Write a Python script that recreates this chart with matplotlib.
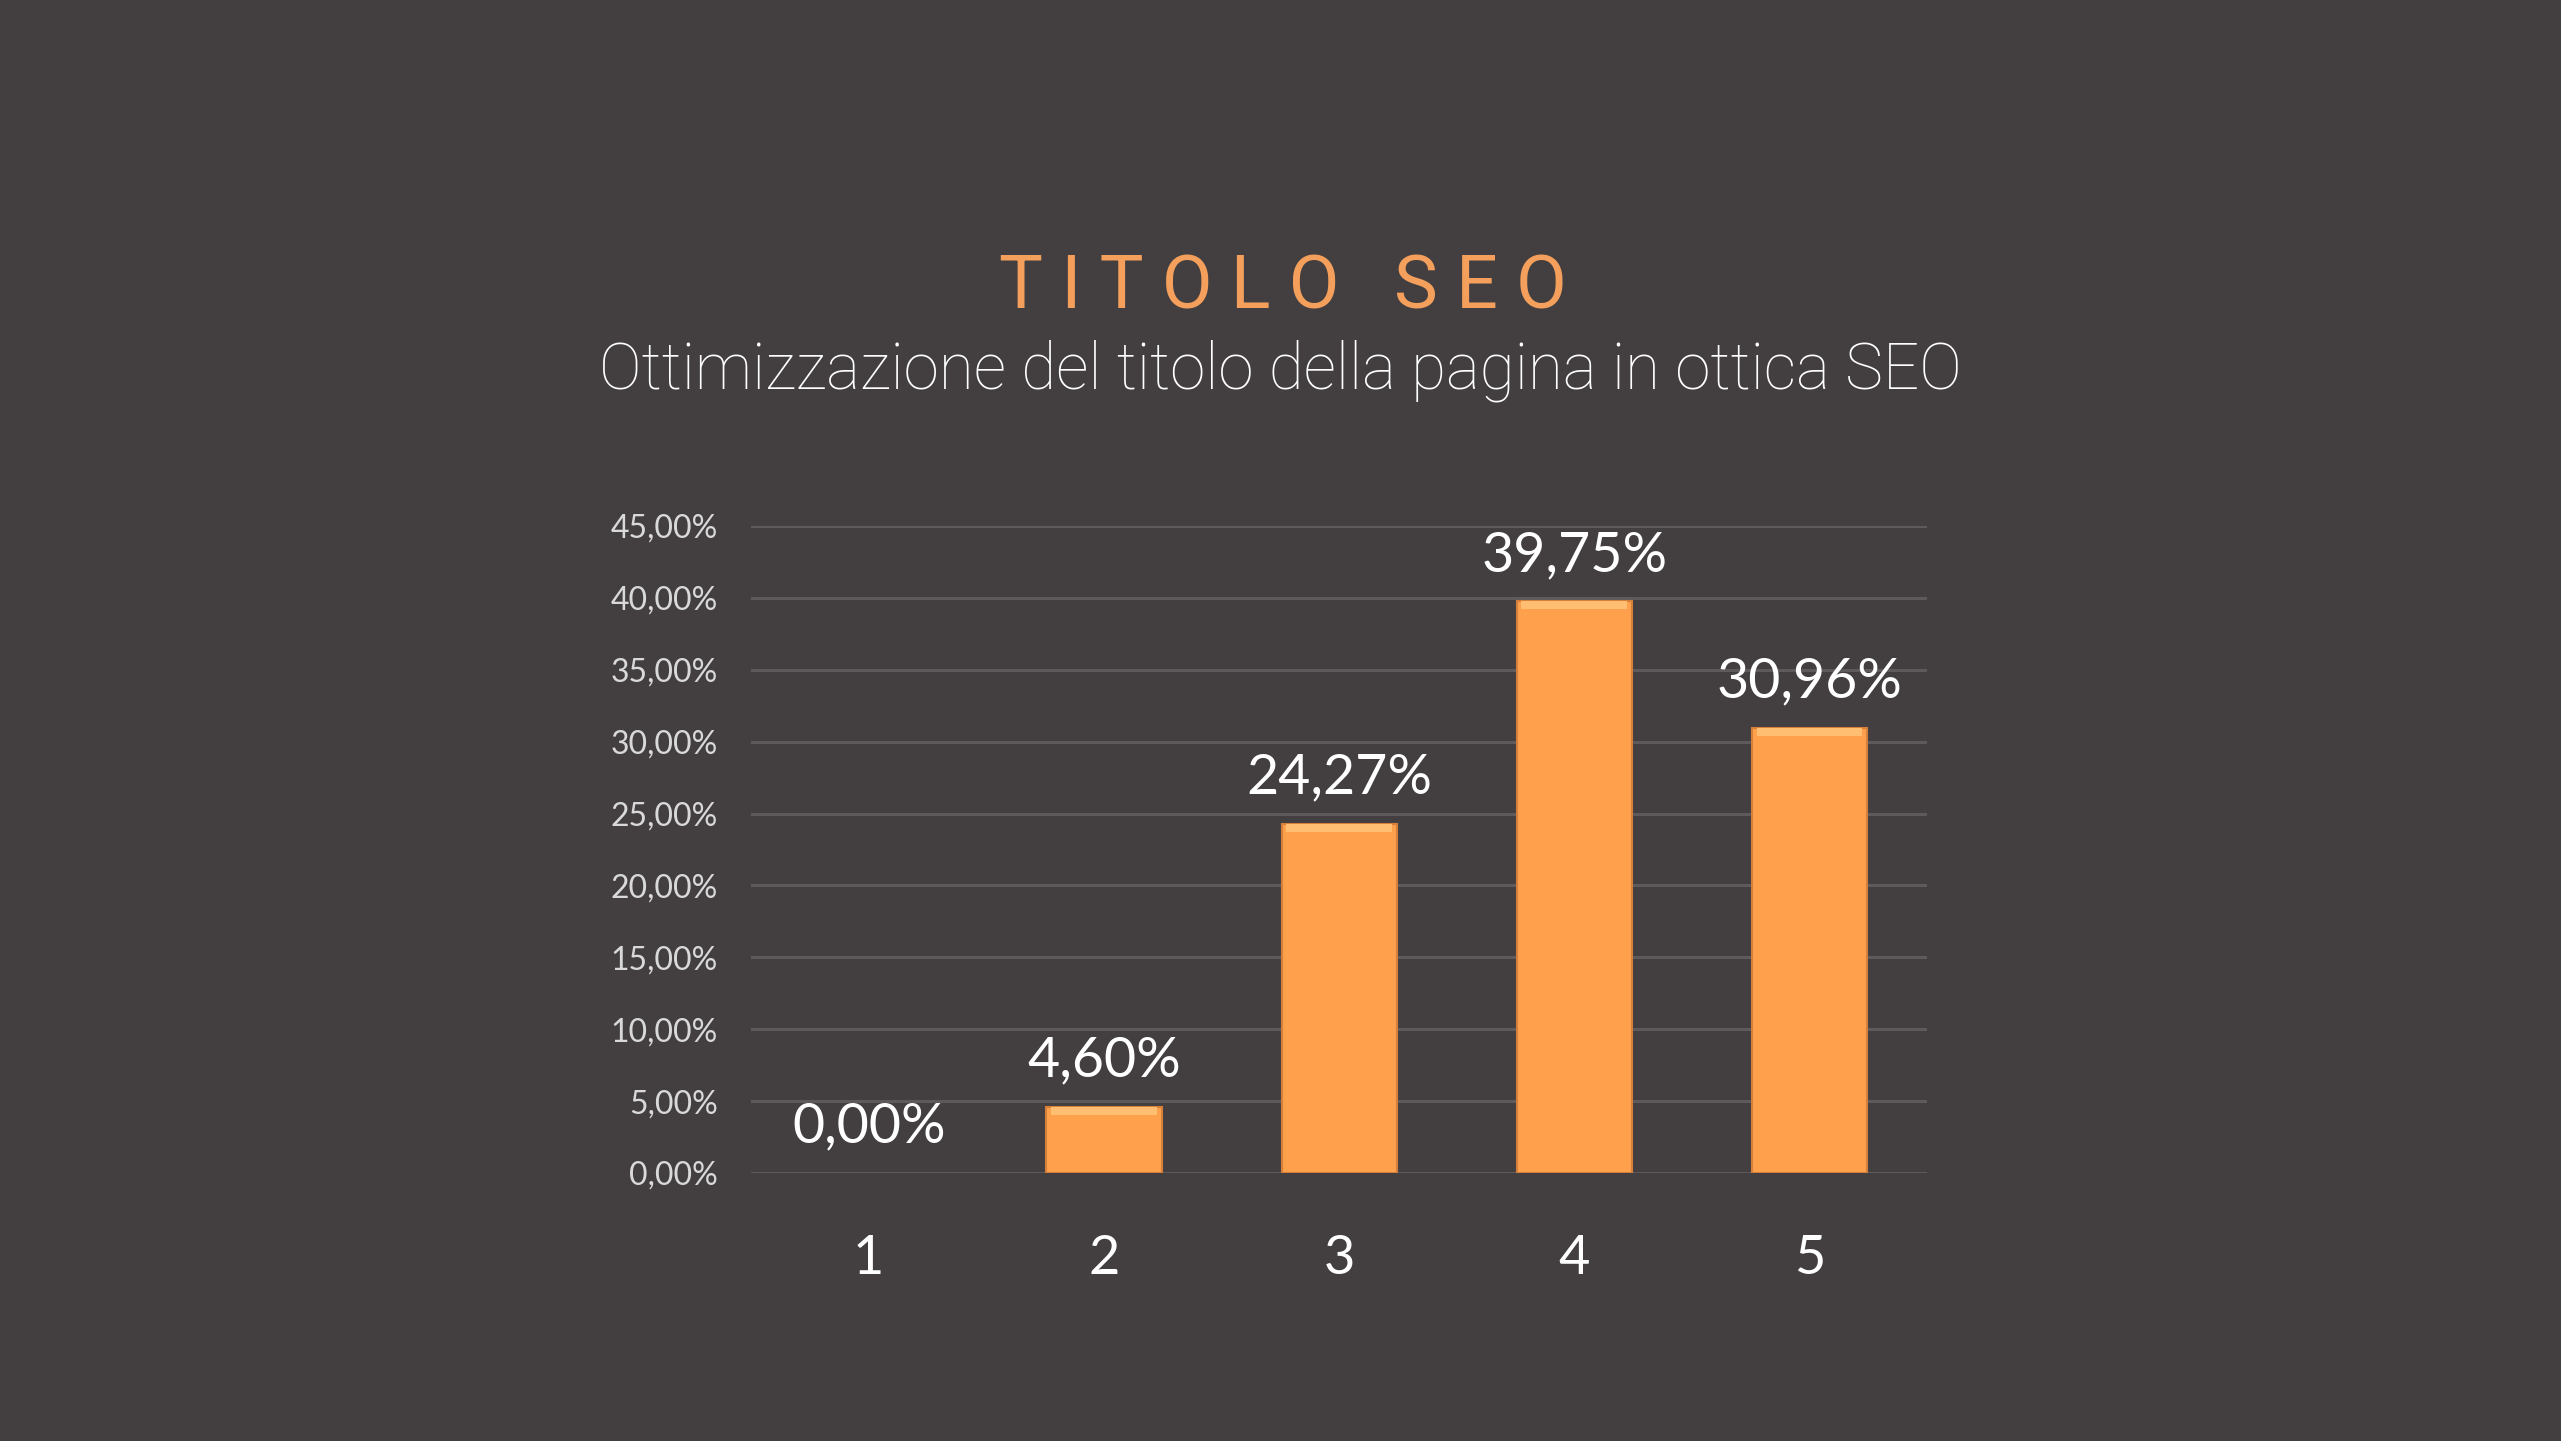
import numpy as np
import matplotlib.pyplot as plt

# data
categories = ["1", "2", "3", "4", "5"]
values = [0.0, 4.60, 24.27, 39.75, 30.96]
y_ticks = [0, 5, 10, 15, 20, 25, 30, 35, 40, 45]

BG = "#433F40"
ORANGE = "#FFA04D"
TITLE_ORANGE = "#F4A05C"


def pct(v):
    return ("%.2f%%" % v).replace(".", ",")


fig = plt.figure(figsize=(25.61, 14.41), dpi=100, facecolor=BG)
ax = fig.add_axes([0.2933, 0.186, 0.4592, 0.449])
ax.set_facecolor(BG)

x = np.arange(1, len(categories) + 1)
edges = ["#D5803A" if v > 0 else "none" for v in values]
ax.bar(x, values, width=0.49, color=ORANGE, edgecolor=edges,
       linewidth=1.5, zorder=3)
# light band along the top, like the bevel in the original
band = 0.55
top = [max(v - band, 0) for v in values]
hb = [band if v > 0 else 0 for v in values]
ax.bar(x, hb, bottom=top, width=0.45, color="#FFBE72", linewidth=0,
       zorder=4)

for xi, v in zip(x, values):
    ax.annotate(pct(v), (xi, v), xytext=(0, 22), textcoords="offset points",
                ha="center", va="baseline", color="white", fontsize=40,
                family="Lato")

ax.set_xlim(0.5, 5.5)
ax.set_ylim(0, 45)
ax.set_yticks(y_ticks)
ax.set_yticklabels([pct(t) for t in y_ticks])
ax.set_xticks(x)
ax.set_xticklabels(categories)
ax.grid(axis="y", color="#5E5A5B", linewidth=2.2, zorder=0)
ax.set_axisbelow(True)
for s in ax.spines.values():
    s.set_visible(False)
ax.tick_params(axis="y", length=0, pad=24, labelsize=23, labelcolor="#D9D9D9")
ax.tick_params(axis="x", length=0, pad=44, labelsize=39, labelcolor="white")
for lab in ax.get_xticklabels() + ax.get_yticklabels():
    lab.set_family("Lato")

fig.text(0.501, 0.800, "T I T O L O   S E O", ha="center", va="center",
         color=TITLE_ORANGE, fontsize=53, family="Roboto")
fig.text(0.5, 0.743, "Ottimizzazione del titolo della pagina in ottica SEO",
         ha="center", va="center", color="white", fontsize=46,
         family="Roboto", fontweight="light")

fig.savefig("out.png", dpi=100, facecolor=BG)
